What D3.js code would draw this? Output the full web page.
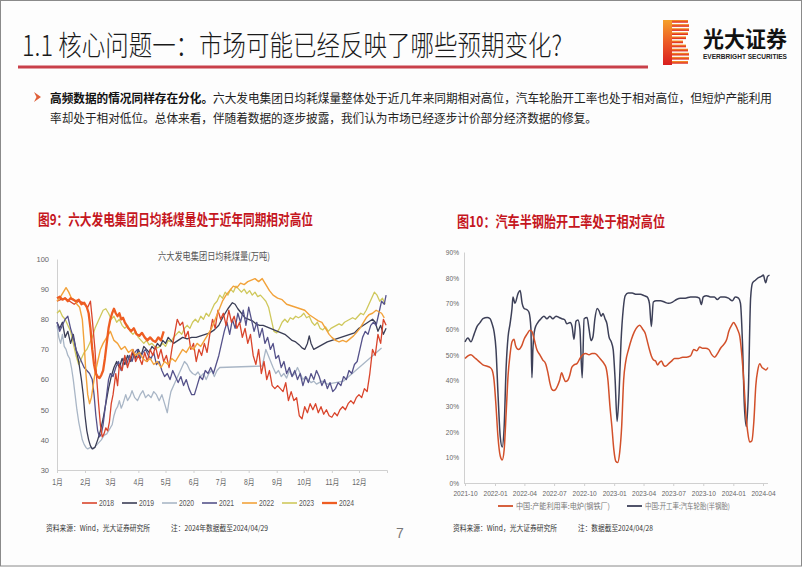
<!DOCTYPE html>
<html><head><meta charset="utf-8">
<script src="https://cdn.jsdelivr.net/npm/d3@7"></script>
<style>
body{margin:0;background:#fff;}
svg{display:block;font-family:"Liberation Sans","Noto Sans CJK SC",sans-serif;}
</style></head><body>
<svg id="c" width="802" height="567"></svg>
<script>
// ---------------- DATA ----------------
const titleText = "1.1 核心问题一：市场可能已经反映了哪些预期变化?";
const bulletBold = "高频数据的情况同样存在分化。";
const bulletLine1 = "六大发电集团日均耗煤量整体处于近几年来同期相对高位，汽车轮胎开工率也处于相对高位，但短炉产能利用";
const bulletLine2 = "率却处于相对低位。总体来看，伴随着数据的逐步披露，我们认为市场已经逐步计价部分经济数据的修复。";
const chart1Title = "图9：六大发电集团日均耗煤量处于近年同期相对高位";
const chart2Title = "图10：汽车半钢胎开工率处于相对高位";
const chart1Sub = "六大发电集团日均耗煤量(万吨)";

// Left chart: day-of-year, value (万吨)
const monthLabels = ["1月","2月","3月","4月","5月","6月","7月","8月","9月","10月","11月","12月"];
const monthStartDays = [1,32,60,91,121,152,182,213,244,274,305,335];
const yTicksLeft = [30,40,50,60,70,80,90,100];
const years = ["2018","2019","2020","2021","2022","2023","2024"];

const s2018 = [[1,86],[5,86.5],[10,87],[15,86],[20,85],[25,86],[30,85.5],[35,84],[38,86],[40,80],[43,70],[45,60],[47,52],[49,45],[51,41],[53,42],[55,44],[57,43],[59,46],[61,52],[63,55],[66,62],[68,58],[70,65],[73,63],[76,68],[79,64],[82,67],[85,70],[88,66],[91,68],[95,65],[98,69],[101,66],[104,70],[107,68],[110,71],[113,67],[116,70],[119,66],[122,68],[125,64],[128,70],[131,75],[134,80],[137,78],[140,79],[143,74],[146,76],[149,70],[152,72],[155,66],[158,70],[161,68],[164,72],[167,69],[170,75],[173,80],[176,77],[179,83],[182,80],[185,82],[188,78],[191,83],[194,79],[197,81],[200,77],[203,79],[206,74],[209,77],[212,72],[215,75],[218,68],[221,65],[224,70],[227,62],[230,66],[233,60],[236,63],[239,58],[242,57],[245,58],[248,57],[251,56],[254,59],[257,53],[260,56],[263,53],[266,54],[269,48],[272,47],[275,51],[278,49],[281,52],[284,50],[287,52],[290,49],[293,51],[296,48.5],[299,50],[302,48],[305,47.5],[308,49],[311,48],[314,50],[317,51],[320,50],[323,52],[326,53],[329,52],[332,54],[335,55],[338,54],[341,57],[344,56],[347,62],[350,70],[353,68],[356,75],[359,72],[362,80],[365,78]];
const s2019 = [[1,79],[4,77],[7,79],[10,74],[13,76],[16,72],[19,75],[22,70],[25,66],[28,60],[30,55],[32,48],[34,43],[36,40],[38,38],[40,37],[43,37.5],[46,40],[49,43],[52,47],[55,52],[58,57],[61,61],[64,64],[67,66],[70,64],[73,67],[76,65],[79,68],[82,66],[85,69],[88,67],[91,70],[94,68],[97,71],[100,70],[103,69],[106,71],[109,70],[112,72],[115,71],[118,73],[121,72],[124,74],[127,73],[130,72],[135,73],[140,74],[145,73.5],[150,74],[155,74],[160,74.5],[165,75],[170,75.5],[175,76.5],[180,78],[185,81],[190,83.5],[195,85.5],[198,85],[201,83.5],[205,82],[209,80.5],[213,80],[217,79.5],[221,78.5],[225,78],[229,78],[233,77.5],[237,77],[241,76.5],[245,76],[249,75.5],[253,75],[257,74],[261,73],[265,72.5],[269,71.5],[272,70.5],[275,70],[278,72],[280,74.5],[282,72],[285,70],[288,70.5],[291,71],[294,71.5],[297,72],[300,72.5],[305,73],[310,73.5],[315,74],[320,74.5],[325,75],[330,75.5],[335,77],[340,78],[345,79],[350,80],[353,79],[356,76],[359,78],[362,75],[365,77]];
const s2020 = [[1,78],[3,74],[5,72],[7,75],[9,71],[11,70],[13,68],[15,67],[17,64],[19,60],[21,55],[23,50],[25,46],[27,43],[29,40],[31,38.5],[33,37.5],[35,37],[38,37.5],[41,37],[44,38],[47,39],[50,40],[53,41.5],[56,42],[59,43.5],[62,45],[64,48],[66,50],[68,51],[70,53],[72,50.5],[74,52],[77,55],[79,53],[82,54.5],[84,56.3],[87,54],[90,53],[93,55],[96,56.3],[99,54],[102,55],[105,54],[108,56],[111,55],[114,53],[117,55],[120,52],[123,49],[125,53],[127,56],[130,58],[133,60],[136,62],[139,64],[142,66],[145,65],[148,63],[151,62],[154,61.5],[157,62.5],[160,61],[163,62],[166,60],[169,62],[172,63],[175,61],[178,63],[181,64],[228,64.5],[232,70],[236,67],[240,64],[243,62],[246,63],[249,61],[252,62],[255,60.5],[258,63],[261,61],[264,62],[267,64],[270,62],[273,60],[276,61],[279,60],[282,59],[285,59.5],[288,58.5],[291,59],[294,59.5],[297,59],[300,58.5],[318,59.5],[360,70.5]];
const s2021 = [[1,79],[4,76],[7,78],[10,80],[13,81],[16,77],[19,74],[22,70],[25,68],[28,66],[31,64],[34,63],[37,62],[40,60],[42,55],[44,48],[46,43],[48,41],[50,42],[52,45],[54,50],[56,55],[58,60],[60,62],[63,61],[66,64],[69,66],[72,63],[75,67],[78,65],[81,68],[84,66],[87,69],[90,70],[93,67],[96,69],[99,70],[102,68],[105,67],[108,69],[111,65],[114,66],[117,63],[120,61],[123,62],[126,60],[129,63],[132,61],[135,59],[138,61],[141,58],[144,60],[147,57],[150,55],[153,55],[156,58],[159,61],[162,60],[165,63],[168,62],[171,64],[174,62],[177,65],[180,68],[183,72],[186,76],[189,79],[192,75],[195,80],[198,77],[201,82],[204,79],[207,83],[210,78],[213,84],[216,80],[219,76],[222,79],[225,74],[228,77],[231,72],[234,74],[237,70],[240,72],[243,67],[246,68],[249,64],[252,66],[255,62],[258,64],[261,61],[264,63],[267,60],[270,62],[273,58],[276,61],[279,59],[282,62],[285,60],[288,63],[291,61],[294,58],[297,60],[300,57],[303,59],[306,56],[309,57],[312,59],[315,58],[318,61],[321,60],[324,63],[327,62],[330,65],[333,66],[336,70],[339,74],[342,76],[345,75],[348,78],[351,79],[354,78],[357,82],[360,86],[363,85],[365,88]];
const s2022 = [[1,86],[4,87],[8,89],[11,90.5],[14,89],[17,87],[20,86.5],[23,85],[26,84],[29,80],[31,72],[33,62],[35,55],[37,52],[39,54],[41,58],[43,62],[46,66],[49,70],[52,72],[56,74],[60,76],[64,73],[68,72],[72,70],[76,71],[80,69],[84,70],[88,68],[92,69],[96,67],[100,66],[104,67],[108,65],[112,66],[116,64],[120,66],[124,65],[128,67],[132,66],[136,68],[140,70],[144,69],[148,71],[152,70],[156,72],[160,71],[164,73],[168,75],[172,77],[176,80],[180,83],[184,86],[188,88],[192,89.5],[196,91],[200,90.5],[204,92],[208,91.5],[212,92.5],[216,93],[220,93.5],[224,92.5],[228,93.5],[232,91.5],[236,89.5],[240,88],[245,87],[250,86.5],[255,85],[260,84.5],[265,84],[270,83.5],[275,83],[280,81.5],[285,80.5],[290,79.5],[294,79],[298,77],[302,75],[305,74],[309,73],[313,72.5],[317,73],[321,72.5],[325,73.5],[329,74.5],[332,75.5],[336,77],[340,79],[343,80.5],[346,81.5],[350,82],[354,83],[357,82.5],[360,82],[363,80.5]];
const s2023 = [[1,82],[4,83],[7,81],[10,80],[13,78],[16,76],[19,72],[22,68],[25,65],[28,67],[31,69],[34,70],[37,72],[40,74],[43,77],[46,79],[49,81],[52,83],[55,83.5],[58,82],[61,80],[64,81],[67,79],[70,80],[73,78],[76,77],[79,78],[82,76],[85,75],[88,76],[91,74],[94,73],[97,72],[100,73],[103,71.5],[106,72],[109,71],[112,70.5],[115,71],[118,72],[121,71],[124,73],[127,72.5],[130,74],[133,75],[136,76],[139,75],[142,77],[145,78],[148,77],[151,79],[154,80],[157,79],[160,81],[163,80],[166,82],[169,81],[172,83],[175,85],[178,86],[181,88],[184,87],[187,89],[190,88],[193,90],[196,89],[199,91],[202,90],[205,89],[208,90],[211,88.5],[214,89.5],[217,88],[220,89],[223,87.5],[226,88],[229,87],[232,86],[235,84],[238,80],[241,76],[244,75.5],[247,77],[250,79],[253,80],[256,79],[259,80.5],[262,80],[265,81],[268,80.5],[271,81],[274,82],[277,80.5],[280,81],[283,79],[286,78],[289,79],[292,77],[295,76.5],[298,77.5],[301,76],[304,77],[307,77.5],[310,78],[313,78.5],[316,78],[319,79],[322,79.5],[325,80],[328,80.5],[331,80],[334,81],[337,82],[340,81.5],[343,83],[346,85],[349,87],[352,89],[355,88],[358,86],[361,87],[364,85]];
const s2024 = [[1,87],[4,87.5],[7,86.5],[10,87],[13,86],[16,87],[19,86.5],[22,86],[25,86.5],[28,85],[31,85.5],[34,84],[36,82],[38,77],[40,70],[42,65],[44,62],[46,61],[48,60.5],[50,61.5],[52,63],[54,67],[56,72],[58,77],[60,80],[62,82],[64,83.5],[66,82],[68,81],[70,82],[72,80],[74,80.5],[76,79],[78,78],[80,77],[83,76],[86,77],[89,75],[92,74.5],[95,75.5],[98,74],[101,73],[104,74],[107,73],[110,72.5],[113,74],[116,73],[119,76]];

// Right chart
const rightTickLabels = ["2021-10","2022-01","2022-04","2022-07","2022-10","2023-01","2023-04","2023-07","2023-10","2024-01","2024-04"];
const yTicksRight = [0,10,20,30,40,50,60,70,80,90];
const rightSeriesNames = ["中国:产能利用率:电炉(钢铁厂)","中国:开工率:汽车轮胎(半钢胎)"];
const furnaceDates = ["2021-10-01","2021-10-10","2021-10-19","2021-10-29","2021-11-07","2021-11-16","2021-11-25","2021-12-08","2021-12-17","2021-12-23","2021-12-29","2022-01-04","2022-01-10","2022-01-17","2022-01-23","2022-01-29","2022-02-04","2022-02-10","2022-02-16","2022-02-22","2022-02-28","2022-03-05","2022-03-14","2022-03-24","2022-03-31","2022-04-09","2022-04-18","2022-04-24","2022-05-01","2022-05-09","2022-05-18","2022-05-27","2022-06-05","2022-06-12","2022-06-18","2022-06-24","2022-06-30","2022-07-06","2022-07-12","2022-07-18","2022-07-24","2022-07-30","2022-08-05","2022-08-12","2022-08-18","2022-08-24","2022-08-31","2022-09-09","2022-09-18","2022-09-27","2022-10-06","2022-10-16","2022-10-25","2022-11-03","2022-11-12","2022-11-22","2022-12-01","2022-12-07","2022-12-13","2022-12-19","2022-12-25","2022-12-31","2023-01-06","2023-01-12","2023-01-18","2023-01-24","2023-01-30","2023-02-05","2023-02-14","2023-02-23","2023-03-04","2023-03-14","2023-03-20","2023-03-29","2023-04-07","2023-04-13","2023-04-19","2023-04-25","2023-05-01","2023-05-08","2023-05-14","2023-05-20","2023-05-26","2023-06-01","2023-06-07","2023-06-17","2023-06-26","2023-07-05","2023-07-17","2023-07-30","2023-08-11","2023-08-23","2023-09-02","2023-09-11","2023-09-20","2023-09-29","2023-10-08","2023-10-18","2023-10-27","2023-11-05","2023-11-14","2023-11-23","2023-12-03","2023-12-12","2023-12-18","2023-12-27","2024-01-02","2024-01-08","2024-01-15","2024-01-21","2024-01-27","2024-02-02","2024-02-08","2024-02-14","2024-02-20","2024-02-27","2024-03-04","2024-03-10","2024-03-16","2024-03-22","2024-03-29","2024-04-04","2024-04-10","2024-04-16"];
const furnaceValues = [48.5,49.5,50,49,48,47,46,45.5,45,44,40,30,18,10.5,9,13,27,42,50,55,56,53.5,52,53.5,56,58,59.5,59,56,52,50,48,46.5,43,39,36.5,36,36.5,38,40,43,41,39.5,40,42,45,46,46.5,48.5,50,50.5,50,50.5,50.5,49.5,48,46.5,45,40,30,22,13,8.5,8,12,22,40,47,52,56,59,61,61.5,60,58,55,52,49.5,48,47.5,46,47,47.5,46,45.5,46.5,47.5,48.5,48.5,49,49,49.5,52,51.5,53,52.5,52.5,52,50,49,50.5,52.5,54,56,59,61.5,62.5,61.5,59.5,57,50,40,28,20,16,16.5,24,38,44,46.5,45,44.5,44,45];
const tireDates = ["2021-10-01","2021-10-10","2021-10-19","2021-10-29","2021-11-07","2021-11-16","2021-11-25","2021-12-08","2021-12-17","2021-12-23","2021-12-29","2022-01-04","2022-01-10","2022-01-17","2022-01-23","2022-01-29","2022-02-04","2022-02-10","2022-02-16","2022-02-22","2022-02-25","2022-03-03","2022-03-13","2022-03-19","2022-03-25","2022-03-31","2022-04-09","2022-04-15","2022-04-21","2022-04-24","2022-04-27","2022-05-03","2022-05-12","2022-05-22","2022-05-31","2022-06-09","2022-06-18","2022-06-27","2022-07-07","2022-07-16","2022-07-25","2022-08-03","2022-08-09","2022-08-19","2022-08-25","2022-08-31","2022-09-06","2022-09-12","2022-09-18","2022-09-25","2022-10-01","2022-10-10","2022-10-16","2022-10-22","2022-10-28","2022-11-03","2022-11-10","2022-11-16","2022-11-22","2022-11-28","2022-12-04","2022-12-10","2022-12-16","2022-12-23","2022-12-29","2023-01-04","2023-01-10","2023-01-16","2023-01-22","2023-01-29","2023-02-04","2023-02-13","2023-02-25","2023-03-10","2023-03-22","2023-04-03","2023-04-12","2023-04-19","2023-04-25","2023-05-01","2023-05-10","2023-05-23","2023-06-04","2023-06-16","2023-06-29","2023-07-11","2023-07-23","2023-08-07","2023-08-23","2023-09-07","2023-09-19","2023-09-25","2023-10-01","2023-10-11","2023-10-23","2023-11-04","2023-11-13","2023-11-23","2023-12-05","2023-12-17","2023-12-29","2024-01-07","2024-01-17","2024-01-23","2024-01-29","2024-02-04","2024-02-10","2024-02-16","2024-02-23","2024-02-29","2024-03-09","2024-03-18","2024-03-27","2024-04-02","2024-04-09","2024-04-15","2024-04-21"];
const tireValues = [55,56.5,55,58,61,62.5,64,64.5,64,62,59,52,35,18,14,22,45,57,62,68,72.5,70,74,75,70,68,67.5,66.5,60,41,52,60,62.5,64,65,64,65,64,65,64.5,64,63.5,62,62.5,61,56,63,63.5,60,41,64,64.5,60,55.5,57,64,68,67,65,66,64,62,57,55,52,40,24,35,55,68,73,74,74,73.5,73.5,73,72.5,70,61,70.5,71,71,70.5,70,70.5,71.5,72,72,72.5,72.5,72,69.5,72.5,73,72.5,72.5,71.5,72.5,72.5,72,71,72.5,72,70,55,30,22,35,72,78,79,80,80.5,81,78,80.5,81];

// ---------------- DRAW ----------------
const W = 802, H = 567;
const svg = d3.select("#c");
const CJK = "'Noto Sans CJK SC','Liberation Sans',sans-serif";
function fit(sel, w){ sel.attr("textLength", w).attr("lengthAdjust","spacingAndGlyphs"); return sel; }
function squeeze(sel, f){ sel.each(function(){ const L=this.getComputedTextLength(); d3.select(this).attr("textLength", L*f).attr("lengthAdjust","spacingAndGlyphs"); }); }

svg.append("rect").attr("x",0).attr("y",0).attr("width",W).attr("height",H).attr("fill","#fdfdfd");
svg.append("rect").attr("x",0.5).attr("y",0.5).attr("width",W-1).attr("height",H-1.5).attr("fill","none").attr("stroke","#8a8a8a").attr("stroke-width",1);

// Title
fit(svg.append("text").attr("x",22).attr("y",56).attr("font-family",CJK).attr("font-size",28).attr("font-weight",300).attr("fill","#1a1a1a").text(titleText), 540);
const defs = svg.append("defs");
svg.append("rect").attr("x",18).attr("y",65.5).attr("width",630).attr("height",3).attr("fill","#c9404a");

// Logo
const lg = defs.append("linearGradient").attr("id","logo").attr("x1","0").attr("x2","0").attr("y1","0").attr("y2","1");
lg.append("stop").attr("offset","0").attr("stop-color","#f5a02a");
lg.append("stop").attr("offset","0.5").attr("stop-color","#ec5a26");
lg.append("stop").attr("offset","1").attr("stop-color","#d91e1e");
const logo = svg.append("g");
logo.append("rect").attr("x",663).attr("y",20).attr("width",9).attr("height",45).attr("fill","url(#logo)");
const barW = [16,17,17,16,14,11,14,16,17,17,16];
barW.forEach((w,i)=>{ logo.append("rect").attr("x",672).attr("y",20+i*4.1).attr("width",w).attr("height",2.7).attr("fill","url(#logo)"); });
fit(svg.append("text").attr("x",703).attr("y",47).attr("font-family",CJK).attr("font-size",22).attr("font-weight",700).attr("fill","#111").text("光大证券"),84);
fit(svg.append("text").attr("x",703).attr("y",58.5).attr("font-family","'Liberation Sans',sans-serif").attr("font-size",7).attr("font-weight",700).attr("fill","#222").text("EVERBRIGHT SECURITIES"),84);

// bullet
svg.append("path").attr("d","M34,92 L41,97 L34,102 L36.5,97 Z").attr("fill","#e0603a");
const b1 = svg.append("text").attr("x",50).attr("y",103).attr("font-family",CJK).attr("font-size",12).attr("fill","#222");
b1.append("tspan").attr("font-weight",700).attr("fill","#111").text(bulletBold);
b1.append("tspan").text(bulletLine1);
fit(b1, 722);
fit(svg.append("text").attr("x",50).attr("y",123).attr("font-family",CJK).attr("font-size",12).attr("fill","#222").text(bulletLine2),547);

// chart titles
fit(svg.append("text").attr("x",38).attr("y",225).attr("font-family",CJK).attr("font-size",15).attr("font-weight",700).attr("fill","#c5161d").text(chart1Title),275);
fit(svg.append("text").attr("x",457).attr("y",227).attr("font-family",CJK).attr("font-size",15).attr("font-weight",700).attr("fill","#c5161d").text(chart2Title),208);

// ---------- Left chart ----------
const x1 = d3.scaleLinear().domain([1,366]).range([57,387]);
const y1 = d3.scaleLinear().domain([30,100]).range([470,259]);
const gL = svg.append("g");
const ax1 = gL.append("g").attr("transform","translate(57,0)")
  .call(d3.axisLeft(y1).tickValues(yTicksLeft).tickFormat(d3.format("d")).tickSize(0).tickSizeOuter(0).tickPadding(8));
const ax1x = gL.append("g").attr("transform","translate(0,470)")
  .call(d3.axisBottom(x1).tickValues(monthStartDays).tickFormat((d,i)=>monthLabels[i]).tickSize(3).tickSizeOuter(3).tickPadding(6));
ax1.select(".domain").attr("stroke","#d0d0d0");
ax1.selectAll("text").attr("fill","#666").attr("font-size",7.5).attr("font-family","'Liberation Sans',sans-serif");
ax1x.select(".domain").attr("stroke","#d0d0d0");
ax1x.selectAll(".tick line").attr("stroke","#d0d0d0");
ax1x.selectAll("text").attr("fill","#666").attr("font-size",8.5).attr("font-family","'Liberation Sans','Noto Sans CJK SC',sans-serif");
squeeze(ax1x.selectAll("text"), 0.8);
fit(gL.append("text").attr("x",214).attr("y",259.5).attr("text-anchor","middle").attr("font-family",CJK).attr("font-size",10).attr("fill","#555").text(chart1Sub),112);

const leftSeries = [s2018,s2019,s2020,s2021,s2022,s2023,s2024];
const leftColors = ["#d9442b","#3a3d55","#a9b6c6","#55528a","#f2a23a","#cfc85c","#ee5d22"];
const leftWidths = [1.3,1.3,1.3,1.3,1.4,1.3,2.3];
const line1 = d3.line().x(d=>x1(d[0])).y(d=>y1(d[1]));
const drawOrder = [2,5,1,3,0,4,6];
drawOrder.forEach(i=>{
  gL.append("path").datum(leftSeries[i]).attr("d",line1).attr("fill","none")
    .attr("stroke",leftColors[i]).attr("stroke-width",leftWidths[i]).attr("stroke-linejoin","round");
});
years.forEach((yr,i)=>{
  const lx = 82 + i*40;
  gL.append("line").attr("x1",lx).attr("x2",lx+15).attr("y1",503).attr("y2",503).attr("stroke",leftColors[i]).attr("stroke-width",i===6?2.3:1.6);
  const t = gL.append("text").attr("x",lx+17).attr("y",506).attr("font-size",8.5).attr("fill","#555").text(yr);
  squeeze(t,0.8);
});

// ---------- Right chart ----------
const parse = d3.timeParse("%Y-%m-%d");
const tickDates = rightTickLabels.map(s=>parse(s+"-01"));
const x2 = d3.scaleTime().domain([parse("2021-10-01"),parse("2024-04-01")]).range([465,763]);
const y2 = d3.scaleLinear().domain([0,90]).range([483,252]);
const gR = svg.append("g");
const ax2 = gR.append("g").attr("transform","translate(464,0)")
  .call(d3.axisLeft(y2).tickValues(yTicksRight).tickFormat(d=>d+"%").tickSize(0).tickSizeOuter(0).tickPadding(5));
const ax2x = gR.append("g").attr("transform","translate(0,483)")
  .call(d3.axisBottom(x2).tickValues(tickDates).tickFormat((d,i)=>rightTickLabels[i]).tickSize(3).tickSizeOuter(0).tickPadding(4));
gR.append("line").attr("x1",464).attr("x2",768).attr("y1",483.5).attr("y2",483.5).attr("stroke","#d0d0d0");
[ax2, ax2x].forEach(a=>{
  a.select(".domain").attr("stroke","#d0d0d0");
  a.selectAll(".tick line").attr("stroke","#d0d0d0");
  a.selectAll("text").attr("fill","#666").attr("font-size",8).attr("font-family","'Liberation Sans',sans-serif");
  squeeze(a.selectAll("text"), 0.82);
});
const furnace = furnaceDates.map((d,i)=>[parse(d),furnaceValues[i]]);
const tire = tireDates.map((d,i)=>[parse(d),tireValues[i]]);
const line2 = d3.line().x(d=>x2(d[0])).y(d=>y2(d[1])).curve(d3.curveMonotoneX);
const rightColors = ["#d2502a","#3d4058"];
gR.append("path").datum(tire).attr("d",line2).attr("fill","none").attr("stroke",rightColors[1]).attr("stroke-width",1.5);
gR.append("path").datum(furnace).attr("d",line2).attr("fill","none").attr("stroke",rightColors[0]).attr("stroke-width",1.5);
[[498,516,94],[627,645,85]].forEach((p,i)=>{
  gR.append("line").attr("x1",p[0]).attr("x2",p[0]+15).attr("y1",506).attr("y2",506).attr("stroke",rightColors[i]).attr("stroke-width",1.8);
  fit(gR.append("text").attr("x",p[1]).attr("y",509).attr("font-family",CJK).attr("font-size",7.5).attr("fill","#777").text(rightSeriesNames[i]),p[2]);
});

// footers
const foot = [[46,"资料来源：Wind，光大证券研究所",104],[171,"注：2024年数据截至2024/04/29",97],[453,"资料来源：Wind，光大证券研究所",104],[578,"注：数据截至2024/04/28",75]];
foot.forEach(f=>{ fit(svg.append("text").attr("x",f[0]).attr("y",531).attr("font-family",CJK).attr("font-size",7.5).attr("fill","#333").text(f[1]),f[2]); });
svg.append("text").attr("x",400).attr("y",538).attr("text-anchor","middle").attr("font-family","'Liberation Sans',sans-serif").attr("font-size",14).attr("fill","#777").text("7");
</script>
</body></html>
